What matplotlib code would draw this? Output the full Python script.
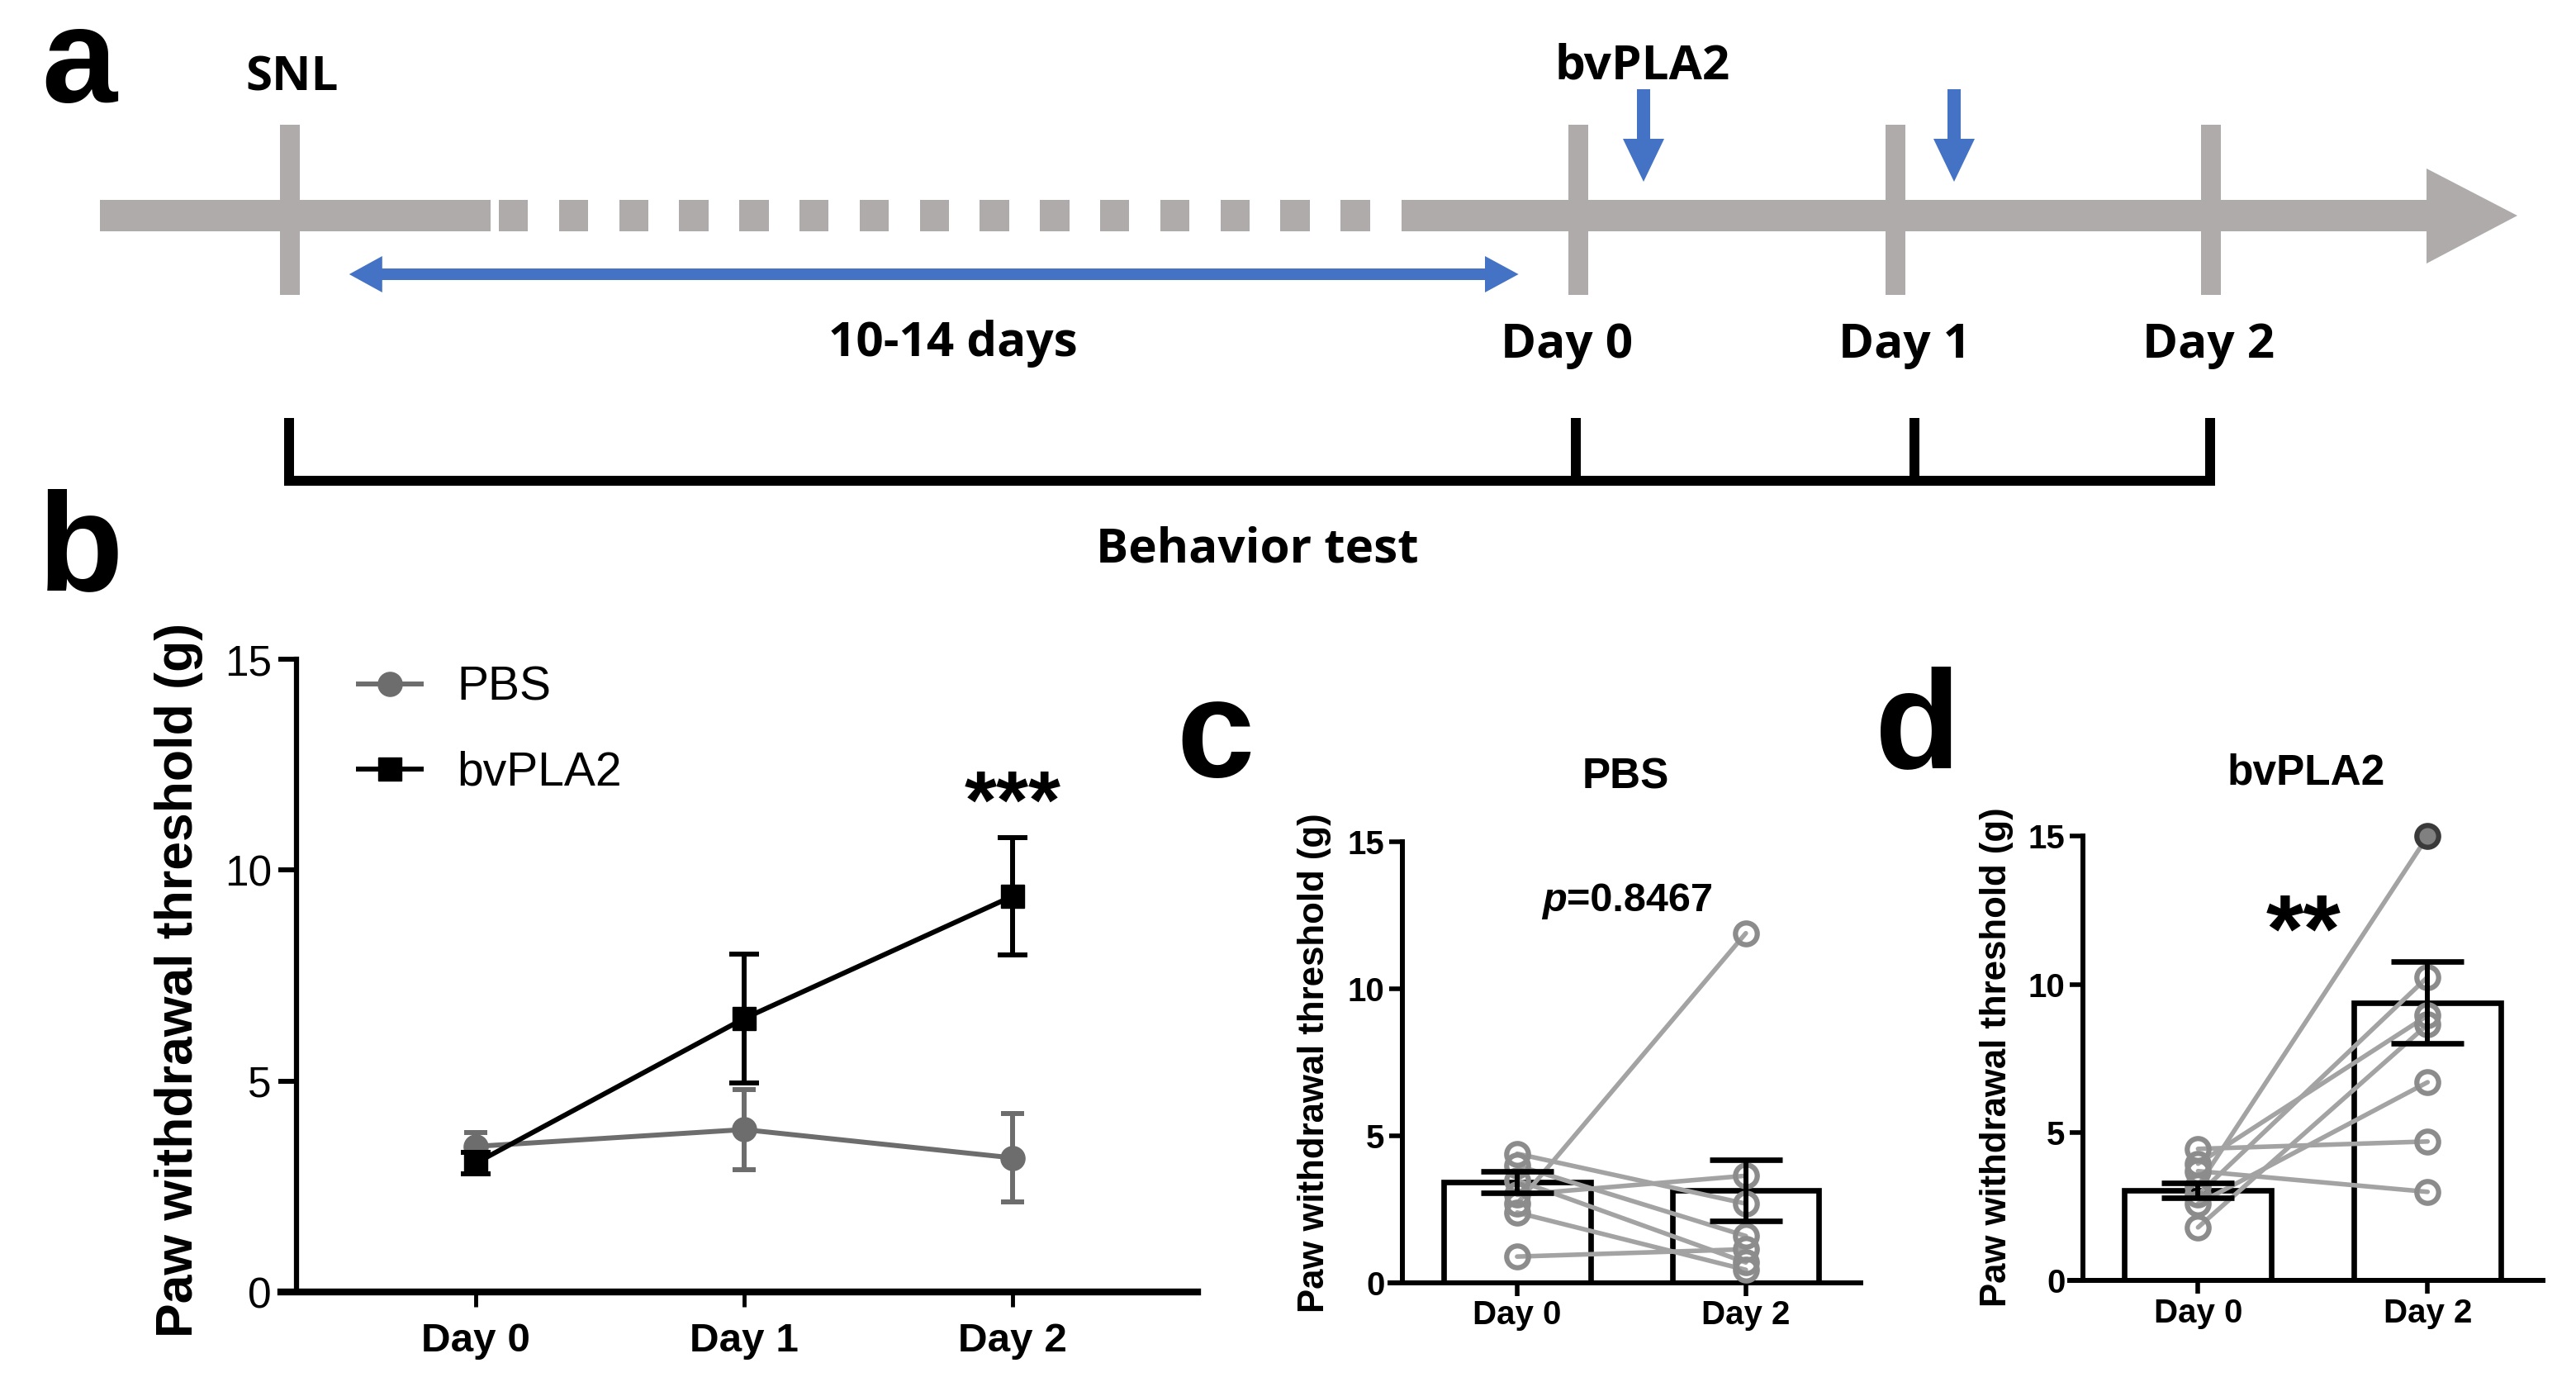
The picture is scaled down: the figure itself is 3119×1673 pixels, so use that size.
import matplotlib
matplotlib.use('Agg')
import matplotlib.pyplot as plt
from matplotlib.patches import Rectangle, Polygon

plt.rcParams['font.family'] = ['Liberation Sans', 'DejaVu Sans']

# ---------------- data ----------------
# panel b : time course (mean +/- SEM)
days_b = ['Day 0', 'Day 1', 'Day 2']
pbs_mean = [3.45, 3.85, 3.18]
pbs_sem = [0.33, 0.95, 1.05]
bv_mean = [3.05, 6.48, 9.38]
bv_sem = [0.25, 1.52, 1.40]

# panels c / d : paired individual animals + bars
days_cd = ['Day 0', 'Day 2']
pbs_day0 = [4.4, 4.0, 3.5, 3.0, 2.7, 2.4, 0.9]
pbs_day2 = [2.7, 1.6, 0.7, 3.65, 11.9, 0.45, 1.15]
pbs_bar = [3.43, 3.15]
pbs_bar_sem = [0.37, 1.03]

bv_day0 = [3.2, 2.9, 3.95, 1.8, 2.6, 4.45, 3.7]
bv_day2 = [15.0, 10.25, 8.95, 8.65, 6.7, 4.7, 3.0]
bv_bar = [3.05, 9.38]
bv_bar_sem = [0.25, 1.38]

# panel a : schematic time line
tl_labels = ['SNL', 'Day 0', 'Day 1', 'Day 2']
tl_x = [175.5, 955.5, 1147.5, 1338.5]
tl_label_x = [176.6, 948.6, 1153, 1337]
inject_x = [995, 1183]
bracket_x = [175, 954, 1159, 1338]

# ---------------- figure ----------------
W, H = 1559.5, 836.5      # canvas units (half of output pixels)
PT = 1.44                  # points per canvas unit
GRAY = '#afabab'
BLUE = '#4472c4'
FONT_A = dict(family=['Open Sans', 'Noto Sans', 'DejaVu Sans'], weight='bold', fontsize=42)

fig = plt.figure(figsize=(31.19, 16.73), dpi=100)

ax_a = fig.add_axes([0, 0, 1, 1])
ax_a.set_xlim(0, W)
ax_a.set_ylim(H, 0)
ax_a.axis('off')
ax_a.patch.set_alpha(0)

# time line bar: solid, dashed, solid, arrow head
ax_a.add_patch(Rectangle((60.7, 121), 297 - 60.7, 19, color=GRAY, lw=0))
for i in range(15):
    ax_a.add_patch(Rectangle((302 + i * 36.4, 121), 17.7, 19, color=GRAY, lw=0))
ax_a.add_patch(Rectangle((848.7, 121), 1469 - 848.7, 19, color=GRAY, lw=0))
ax_a.add_patch(Polygon([(1469, 102), (1524, 130.5), (1469, 159.5)], closed=True, color=GRAY, lw=0))
for x in tl_x:
    ax_a.add_patch(Rectangle((x - 6, 75.4), 12, 103.2, color=GRAY, lw=0))

# blue double arrow (10-14 days)
ax_a.add_patch(Rectangle((230, 162.5), 900 - 230, 7, color=BLUE, lw=0))
ax_a.add_patch(Polygon([(211.4, 166), (231.4, 155), (231.4, 177)], closed=True, color=BLUE, lw=0))
ax_a.add_patch(Polygon([(919.3, 166), (899, 155), (899, 177)], closed=True, color=BLUE, lw=0))

# injection arrows
for x in inject_x:
    ax_a.add_patch(Rectangle((x - 4, 54), 8, 31, color=BLUE, lw=0))
    ax_a.add_patch(Polygon([(x - 12.5, 84), (x + 12.5, 84), (x, 110)], closed=True, color=BLUE, lw=0))

# behavior test bracket
ax_a.plot([bracket_x[0] - 3, bracket_x[-1] + 3], [291, 291], color='black', lw=6 * PT, solid_capstyle='butt')
for x in bracket_x:
    ax_a.plot([x, x], [253, 294], color='black', lw=6 * PT, solid_capstyle='butt')

ax_a.text(tl_label_x[0], 54.7, tl_labels[0], ha='center', va='baseline', **FONT_A)
for lab, x in zip(tl_labels[1:], tl_label_x[1:]):
    ax_a.text(x, 216.7, lab, ha='center', va='baseline', **FONT_A)
ax_a.text(994.5, 47.5, 'bvPLA2', ha='center', va='baseline', **FONT_A)
ax_a.text(577, 215.4, '10-14 days', ha='center', va='baseline', **FONT_A)
ax_a.text(761, 340, 'Behavior test', ha='center', va='baseline', **FONT_A)

# panel letters
ax_a.text(25, 2, 'a', ha='left', va='top', fontsize=118, fontweight='bold')
for lab, x, y in [('b', 23, 357), ('c', 712, 470), ('d', 1135, 464.6)]:
    ax_a.text(x, y, lab, ha='left', va='baseline', fontsize=122, fontweight='bold')

# ---------------- panel b ----------------
ax_b = fig.add_axes([170 / W, 1 - 782 / H, 555 / W, 383 / H])
ax_b.patch.set_alpha(0)
eb_p = ax_b.errorbar(range(3), pbs_mean, yerr=pbs_sem, color='#6d6d6d', marker='o', ms=21,
                     lw=4.3, elinewidth=4.3, capsize=10, capthick=4.3, zorder=3, clip_on=False)
eb_b = ax_b.errorbar(range(3), bv_mean, yerr=bv_sem, color='black', marker='s', ms=20,
                     lw=4.3, elinewidth=4.3, capsize=13, capthick=4.3, zorder=4, clip_on=False)
ax_b.set_xlim(-0.725, 2.69)
ax_b.set_ylim(0, 15)
ax_b.spines['top'].set_visible(False)
ax_b.spines['right'].set_visible(False)
ax_b.spines['left'].set_position(('data', -0.667))
ax_b.spines['left'].set_linewidth(4.5)
ax_b.spines['bottom'].set_linewidth(6)
ax_b.set_yticks([0, 5, 10, 15])
ax_b.set_xticks(range(3))
ax_b.set_xticklabels(days_b, fontweight='bold')
ax_b.tick_params(axis='y', length=15.8, width=4.3, pad=5.8, labelsize=37)
ax_b.tick_params(axis='x', length=12.8, width=3.5, pad=14, labelsize=35.6)
ax_b.set_ylabel('Paw withdrawal threshold (g)', fontsize=45, fontweight='bold')
ax_b.yaxis.set_label_coords(-0.1117, 0.4935)
ax_b.yaxis.label.set_va('center')
ax_b.legend([eb_p[0], eb_b[0]], ['PBS', 'bvPLA2'], loc='upper left', bbox_to_anchor=(0.0847, 0.99),
            frameon=False, fontsize=41, handlelength=1.33, handletextpad=0.77, labelspacing=0.86,
            borderpad=0, borderaxespad=0)
ax_b.text(2, 11.5, '***', ha='center', va='center', fontsize=72, fontweight='bold')


# ---------------- panels c / d ----------------
def paired_panel(rect, xleft, day0, day2, bar, sem, title, title_pad):
    ax = fig.add_axes(rect)
    ax.patch.set_alpha(0)
    ax.bar(range(2), bar, width=0.64, facecolor='white', edgecolor='black', lw=4.8, zorder=1)
    for a, b in zip(day0, day2):
        ax.plot([0, 1], [a, b], color='#a3a3a3', lw=4.0, zorder=2, solid_capstyle='round')
    ax.plot([0] * len(day0), day0, 'o', ms=19, mfc='none', mec='#8c8c8c', mew=4.5, zorder=3, clip_on=False)
    open2 = [v for v in day2 if v < 15]
    top2 = [v for v in day2 if v >= 15]
    ax.plot([1] * len(open2), open2, 'o', ms=19, mfc='none', mec='#8c8c8c', mew=4.5, zorder=3, clip_on=False)
    if top2:
        ax.plot([1] * len(top2), top2, 'o', ms=19, mfc='#808080', mec='#3a3a3a', mew=4.5, zorder=3, clip_on=False)
    ax.errorbar(range(2), bar, yerr=sem, fmt='none', ecolor='black', elinewidth=4.3,
                capsize=32, capthick=4.8, zorder=5, clip_on=False)
    ax.set_xlim(xleft, 1.504)
    ax.set_ylim(0, 15)
    ax.spines['top'].set_visible(False)
    ax.spines['right'].set_visible(False)
    ax.spines['left'].set_position(('data', -0.5))
    ax.spines['left'].set_linewidth(4.3)
    ax.spines['bottom'].set_linewidth(4.3)
    ax.set_yticks([0, 5, 10, 15])
    ax.set_xticks(range(2))
    ax.set_xticklabels(days_cd)
    ax.tick_params(axis='both', length=11.5, width=4.0, labelsize=29)
    ax.tick_params(axis='y', pad=4.3)
    ax.tick_params(axis='x', pad=3)
    for lab in ax.get_xticklabels() + ax.get_yticklabels():
        lab.set_fontweight('bold')
    ax.set_ylabel('Paw withdrawal threshold (g)', fontsize=31.5, fontweight='bold')
    ax.yaxis.label.set_va('center')
    ax.set_title(title, fontsize=37, fontweight='bold', pad=title_pad)
    return ax


ax_c = paired_panel([841.6 / W, 1 - 776.6 / H, 285.1 / W, 266.9 / H], -0.555,
                    pbs_day0, pbs_day2, pbs_bar, pbs_bar_sem, 'PBS', 47)
ax_c.yaxis.set_label_coords(-0.16, 0.50)
ax_c.text(0.217, 13.0, 'p', ha='right', va='center', fontsize=35, fontweight='bold', fontstyle='italic')
ax_c.text(0.217, 13.0, '=0.8467', ha='left', va='center', fontsize=35, fontweight='bold')

ax_d = paired_panel([1253 / W, 1 - 775.2 / H, 286.7 / W, 269 / H], -0.559,
                    bv_day0, bv_day2, bv_bar, bv_bar_sem, 'bvPLA2', 45.5)
ax_d.yaxis.set_label_coords(-0.1535, 0.503)
ax_d.text(0.46, 11.6, '**', ha='center', va='center', fontsize=84, fontweight='bold')

fig.savefig('out.png', dpi=100)
